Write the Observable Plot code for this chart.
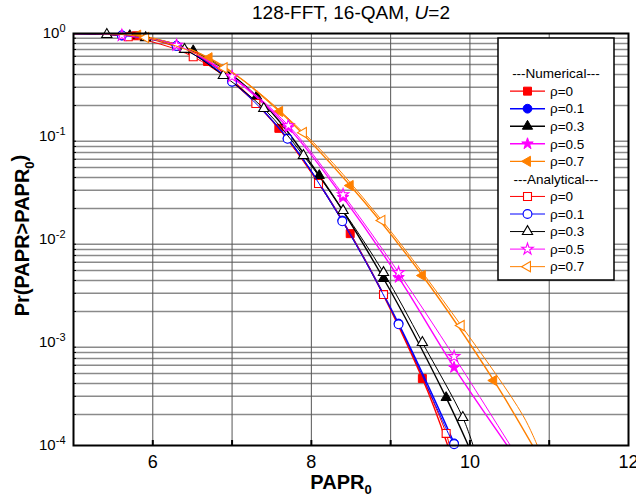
<!DOCTYPE html>
<html><head><meta charset="utf-8">
<script src="https://cdn.jsdelivr.net/npm/d3@7"></script>
<script src="https://cdn.jsdelivr.net/npm/@observablehq/plot@0.6"></script>
<style>
body{margin:0;background:#fff;font-family:"Liberation Sans",Arial,sans-serif;}
#wrap{position:relative;width:636px;height:501px;}
#legend{position:absolute;left:497px;top:37px;}
</style></head><body><div id="wrap"></div>
<script>
// ---------- data ----------
const titleText = "128-FFT, 16-QAM, U=2";
const rhoLabels = ["ρ=0", "ρ=0.1", "ρ=0.3", "ρ=0.5", "ρ=0.7"];
const xTickLabels = [6, 8, 10, 12];
const xGrid = [6, 7, 8, 9, 10, 11];
const yDecades = [1e-4, 1e-3, 1e-2, 1e-1, 1];

// Numerical (simulated) curves: vertices x, probability p, marker abscissas m
const n0_x = [5.0, 5.79, 6.69, 7.59, 8.49, 9.40, 9.72];
const n0_p = [0.998, 0.95, 0.535, 0.120, 0.0114, 4.47e-4, 1e-4];
const n0_m = [5.79, 6.69, 7.59, 8.49, 9.40];
const n1_x = [5.0, 5.61, 6.30, 7.00, 7.70, 8.39, 9.10, 9.80, 9.81];
const n1_p = [0.998, 0.957, 0.760, 0.342, 0.0957, 0.0153, 1.53e-3, 1.05e-4, 1e-4];
const n1_m = [5.61, 6.30, 7.00, 7.70, 8.39, 9.10, 9.80];
const n3_x = [5.0, 5.71, 6.51, 7.31, 8.10, 8.91, 9.70, 9.98];
const n3_p = [0.998, 0.955, 0.68, 0.245, 0.0418, 4.18e-3, 2.92e-4, 1e-4];
const n3_m = [5.71, 6.51, 7.31, 8.10, 8.91, 9.70];
const n5_x = [5.0, 5.61, 6.30, 7.00, 7.71, 8.40, 9.10, 9.80, 10.47];
const n5_p = [0.998, 0.96, 0.77, 0.374, 0.122, 0.0256, 4.28e-3, 5.72e-4, 1e-4];
const n5_m = [5.61, 6.30, 7.00, 7.71, 8.40, 9.10, 9.80];
const n7_x = [5.0, 5.81, 6.71, 7.60, 8.49, 9.40, 10.30, 10.79];
const n7_p = [0.998, 0.963, 0.581, 0.175, 0.0334, 4.47e-3, 4.28e-4, 1e-4];
const n7_m = [5.81, 6.71, 7.60, 8.49, 9.40, 10.30];

// Analytical curves
const a0_x = [5.0, 5.69, 6.51, 7.30, 8.09, 8.91, 9.70, 9.74];
const a0_p = [0.998, 0.929, 0.594, 0.209, 0.035, 2.92e-3, 1.31e-4, 1e-4];
const a0_m = [5.69, 6.51, 7.30, 8.09, 8.91, 9.70];
const a1_x = [5.0, 5.61, 6.30, 7.00, 7.70, 8.39, 9.10, 9.80, 9.82];
const a1_p = [0.998, 0.957, 0.758, 0.340, 0.0950, 0.0150, 1.50e-3, 1.03e-4, 1e-4];
const a1_m = [5.61, 6.30, 7.00, 7.70, 8.39, 9.10, 9.80];
const a3_x = [5.0, 5.42, 5.91, 6.40, 6.89, 7.40, 7.90, 8.40, 8.91, 9.40, 9.91, 10.04];
const a3_p = [0.998, 0.978, 0.91, 0.70, 0.391, 0.187, 0.0654, 0.0191, 4.78e-3, 1.0e-3, 1.87e-4, 1e-4];
const a3_m = [5.42, 5.91, 6.40, 6.89, 7.40, 7.90, 8.40, 8.91, 9.40, 9.91];
const a5_x = [5.0, 5.61, 6.30, 7.00, 7.71, 8.40, 9.10, 9.80, 10.51];
const a5_p = [0.998, 0.96, 0.77, 0.382, 0.128, 0.0273, 4.78e-3, 7.31e-4, 1e-4];
const a5_m = [5.61, 6.30, 7.00, 7.71, 8.40, 9.10, 9.80];
const a7_x = [5.0, 5.91, 6.90, 7.90, 8.89, 9.89, 10.67, 10.85];
const a7_p = [0.998, 0.914, 0.463, 0.109, 0.0153, 1.46e-3, 1.95e-4, 1e-4];
const a7_m = [5.91, 6.90, 7.90, 8.89, 9.89];

// ---------- styles ----------
const colors = ["#ff0000", "#0000ff", "#000000", "#ff00ff", "#ff8000"];
const triLeft = {draw(ctx, size) {
  const s = Math.sqrt(size * 4 / Math.sqrt(3)), a = s * Math.sqrt(3) / 2;
  ctx.moveTo(-2 * a / 3, 0); ctx.lineTo(a / 3, -s / 2); ctx.lineTo(a / 3, s / 2); ctx.closePath();
}};
const symbols = ["square", "circle", "triangle", "star", triLeft];
const symR = [4.5, 4.4, 3.8, 3.6, 3.8];

const numSeries = [[n0_x,n0_p,n0_m],[n1_x,n1_p,n1_m],[n3_x,n3_p,n3_m],[n5_x,n5_p,n5_m],[n7_x,n7_p,n7_m]];
const anaSeries = [[a0_x,a0_p,a0_m],[a1_x,a1_p,a1_m],[a3_x,a3_p,a3_m],[a5_x,a5_p,a5_m],[a7_x,a7_p,a7_m]];

const gridY = yDecades.slice(0, -1).flatMap(d => [2,3,4,5,6,7,8,9].map(k => d * k));

function seriesMarks(s, i, open) {
  const [xs, ps, ms] = s;
  const pts = xs.map((x, j) => ({x, p: ps[j]}));
  const mk = pts.filter(d => ms.includes(d.x));
  return [
    Plot.line(pts, {x: "x", y: "p", stroke: colors[i], strokeWidth: open ? 1 : 1.4, curve: "catmull-rom", clip: true}),
    Plot.dot(mk, {x: "x", y: "p", symbol: symbols[i], r: symR[i],
      fill: open ? "white" : colors[i], stroke: colors[i], strokeWidth: open ? 1.1 : 1})
  ];
}

const plot = Plot.plot({
  width: 636, height: 501,
  marginTop: 33, marginBottom: 56, marginLeft: 73, marginRight: 8,
  style: {fontFamily: "'Liberation Sans', Arial, sans-serif", background: "white", color: "black"},
  x: {domain: [5, 12]},
  y: {type: "log", domain: [1e-4, 1]},
  marks: [
    Plot.ruleY(gridY, {stroke: "#8a8a8a", strokeWidth: 1.5}),
    Plot.ruleX(xGrid, {stroke: "#555", strokeWidth: 1}),
    ...numSeries.flatMap((s, i) => seriesMarks(s, i, false)),
    ...anaSeries.flatMap((s, i) => seriesMarks(s, i, true)),
    Plot.frame({stroke: "black", strokeWidth: 2}),
    Plot.axisX({ticks: xGrid, tickSize: -5, strokeWidth: 2, tickFormat: () => "", label: null}),
    Plot.axisY({ticks: gridY, tickSize: -3, strokeWidth: 1, tickFormat: () => "", label: null}),
    Plot.axisX({ticks: xTickLabels, tickSize: 0, tickPadding: 10, fontSize: 18, label: null, tickFormat: d => String(d)}),
    Plot.axisY({ticks: yDecades, tickSize: 0, tickPadding: 8, fontSize: 15, label: null,
      tickFormat: d => String(Math.round(Math.log10(d)))}),
    Plot.text([titleText], {frameAnchor: "top", dy: -21, lineAnchor: "middle", textAnchor: "middle", fontSize: 19, text: d => d}),
    Plot.text(["PAPR0"], {frameAnchor: "bottom", dx: -10, dy: 37, lineAnchor: "middle", textAnchor: "middle", fontSize: 20, fontWeight: "bold", text: d => d}),
    Plot.text(["Pr(PAPR>PAPR0)"], {frameAnchor: "left", dx: -51, dy: -4, rotate: -90, lineAnchor: "middle", textAnchor: "middle", fontSize: 20, fontWeight: "bold", text: d => d})
  ]
});

const NS = "http://www.w3.org/2000/svg";
function setParts(t, parts) {
  while (t.firstChild) t.removeChild(t.firstChild);
  for (const p of parts) {
    const ts = document.createElementNS(NS, "tspan");
    ts.textContent = p.t;
    for (const k in (p.a || {})) ts.setAttribute(k, p.a[k]);
    t.appendChild(ts);
  }
}
plot.querySelectorAll('g[aria-label="y-axis tick label"] text').forEach(t => {
  const e = t.textContent;
  if (e === "") return;
  setParts(t, [{t: "10"}, {t: e, a: {dy: "-0.6em", "font-size": "11"}}]);
});
plot.querySelectorAll("text").forEach(t => {
  const c = t.textContent;
  if (c === titleText) setParts(t, [{t: "128-FFT, 16-QAM, "}, {t: "U", a: {"font-style": "italic"}}, {t: "=2"}]);
  else if (c === "PAPR0") setParts(t, [{t: "PAPR"}, {t: "0", a: {dy: "0.4em", "font-size": "13"}}]);
  else if (c === "Pr(PAPR>PAPR0)") setParts(t, [{t: "Pr(PAPR>PAPR"}, {t: "0", a: {dy: "0.4em", "font-size": "13"}}, {t: ")", a: {dy: "-0.4em"}}]);
});
const wrap = document.getElementById("wrap");
wrap.appendChild(plot);

// ---------- legend ----------
const W = 118, H = 244;
const lg = d3.select(wrap).append("svg").attr("id", "legend").attr("width", W).attr("height", H)
  .style("font-family", "'Liberation Sans', Arial, sans-serif");
lg.append("rect").attr("x", 1).attr("y", 1).attr("width", W - 2).attr("height", H - 2)
  .attr("fill", "white").attr("stroke", "black").attr("stroke-width", 1.5);
const y0 = 36.6, dy = 17.55;
const rows = [];
rows.push({head: "---Numerical---"});
rhoLabels.forEach((l, i) => rows.push({label: l, i, open: false}));
rows.push({head: "---Analytical---"});
rhoLabels.forEach((l, i) => rows.push({label: l, i, open: true}));
rows.forEach((r, k) => {
  const y = y0 + k * dy;
  if (r.head) {
    lg.append("text").attr("x", 59).attr("y", y).attr("dy", "0.35em").attr("text-anchor", "middle")
      .attr("font-size", 13.5).text(r.head);
    return;
  }
  lg.append("line").attr("x1", 13).attr("x2", 48).attr("y1", y).attr("y2", y)
    .attr("stroke", colors[r.i]).attr("stroke-width", r.open ? 1 : 1.4);
  const sym = typeof symbols[r.i] === "string" ? {square: d3.symbolSquare, circle: d3.symbolCircle, triangle: d3.symbolTriangle, star: d3.symbolStar}[symbols[r.i]] : symbols[r.i];
  lg.append("path").attr("transform", `translate(30.5,${y})`)
    .attr("d", d3.symbol(sym, symR[r.i] * symR[r.i] * Math.PI)())
    .attr("fill", r.open ? "white" : colors[r.i]).attr("stroke", colors[r.i]).attr("stroke-width", r.open ? 1.1 : 1);
  lg.append("text").attr("x", 53).attr("y", y).attr("dy", "0.35em").attr("font-size", 13.5).text(r.label);
});
</script></body></html>
